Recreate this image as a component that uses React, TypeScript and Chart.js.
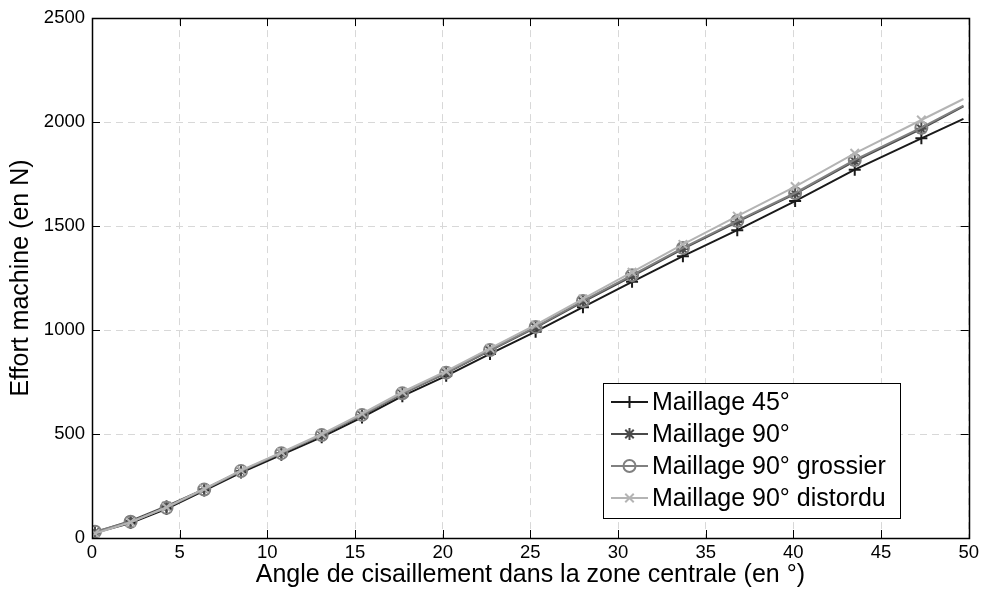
import React, { useEffect, useRef } from "react";
import { Chart, registerables } from "chart.js";

Chart.register(...registerables);

const FONT = "'Liberation Sans', Arial, Helvetica, sans-serif";

const angles = [0.17, 2.2, 4.25, 6.4, 8.5, 10.8, 13.1, 15.4, 17.7, 20.2, 22.7, 25.3, 28.0, 30.8, 33.7, 36.8, 40.1, 43.5, 47.3, 49.7];

const maillage45 = [25, 72, 140, 228, 315, 400, 485, 580, 682, 780, 885, 992, 1110, 1232, 1355, 1480, 1620, 1771, 1922, 2015];
const maillage90 = [28, 82, 153, 235, 322, 408, 494, 590, 694, 793, 901, 1012, 1136, 1258, 1390, 1520, 1655, 1812, 1968, 2075];
const maillage90Grossier = [30, 78, 145, 233, 322, 408, 495, 592, 696, 795, 904, 1015, 1140, 1264, 1395, 1525, 1659, 1818, 1973, 2079];
const maillage90Distordu = [22, 76, 148, 236, 325, 412, 500, 598, 702, 802, 912, 1025, 1150, 1278, 1412, 1548, 1690, 1850, 2010, 2111];

const seriesLabels = ["Maillage 45°", "Maillage 90°", "Maillage 90° grossier", "Maillage 90° distordu"];
const seriesColors = ["#1a1a1a", "#4a4a4a", "#808080", "#b4b4b4"];
const seriesMarkers = ["cross", "star", "circle", "crossRot"];

const xTicks = [0, 5, 10, 15, 20, 25, 30, 35, 40, 45, 50];
const yTicks = [0, 500, 1000, 1500, 2000, 2500];

const xTitle = "Angle de cisaillement dans la zone centrale (en °)";
const yTitle = "Effort machine (en N)";

function drawMarker(ctx: CanvasRenderingContext2D, style: string, x: number, y: number, r: number, color: string) {
  ctx.save();
  ctx.strokeStyle = color;
  ctx.lineWidth = 2;
  ctx.beginPath();
  if (style === "cross" || style === "star") {
    ctx.moveTo(x - r, y); ctx.lineTo(x + r, y);
    ctx.moveTo(x, y - r); ctx.lineTo(x, y + r);
  }
  if (style === "crossRot" || style === "star") {
    const d = r * 0.707;
    ctx.moveTo(x - d, y - d); ctx.lineTo(x + d, y + d);
    ctx.moveTo(x - d, y + d); ctx.lineTo(x + d, y - d);
  }
  if (style === "circle") {
    ctx.arc(x, y, r, 0, Math.PI * 2);
  }
  ctx.stroke();
  ctx.restore();
}

const framePlugin = {
  id: "frame",
  afterDatasetsDraw(chart: any) {
    const { ctx, chartArea, scales } = chart;
    const { left, right, top, bottom } = chartArea;
    ctx.save();
    ctx.strokeStyle = "#000";
    ctx.lineWidth = 1;
    ctx.beginPath();
    const tl = 8;
    xTicks.forEach((v) => {
      const px = Math.round(scales.x.getPixelForValue(v)) + 0.5;
      ctx.moveTo(px, bottom); ctx.lineTo(px, bottom - tl);
      ctx.moveTo(px, top); ctx.lineTo(px, top + tl);
    });
    yTicks.forEach((v) => {
      const py = Math.round(scales.y.getPixelForValue(v)) + 0.5;
      ctx.moveTo(left, py); ctx.lineTo(left + tl, py);
      ctx.moveTo(right, py); ctx.lineTo(right - tl, py);
    });
    ctx.stroke();
    ctx.lineWidth = 1.5;
    ctx.strokeRect(Math.round(left) + 0.5, Math.round(top) + 0.5, Math.round(right - left), Math.round(bottom - top));
    ctx.restore();

    // legend
    const bx = 603, by = 383, bw = 297, bh = 135;
    ctx.save();
    ctx.fillStyle = "#fff";
    ctx.fillRect(bx, by, bw, bh);
    ctx.strokeStyle = "#000";
    ctx.lineWidth = 1;
    ctx.strokeRect(bx + 0.5, by + 0.5, bw, bh);
    ctx.font = `25px ${FONT}`;
    ctx.textBaseline = "middle";
    ctx.textAlign = "left";
    seriesLabels.forEach((lab, i) => {
      const cy = by + 19 + i * 32;
      ctx.strokeStyle = seriesColors[i];
      ctx.lineWidth = 2;
      ctx.beginPath();
      ctx.moveTo(611, cy); ctx.lineTo(648, cy);
      ctx.stroke();
      drawMarker(ctx, seriesMarkers[i], 629.5, cy, 6, seriesColors[i]);
      ctx.fillStyle = "#000";
      ctx.fillText(lab, 652, cy + 1);
    });
    ctx.restore();
  },
};

function makeDataset(label: string, values: number[], i: number) {
  const n = values.length;
  return {
    label,
    data: values.map((v, k) => ({ x: angles[k], y: v })),
    borderColor: seriesColors[i],
    backgroundColor: "rgba(0,0,0,0)",
    borderWidth: 2,
    pointStyle: seriesMarkers[i],
    pointRadius: values.map((_, k) => (k === n - 1 ? 0 : 6)),
    pointBorderWidth: 2,
    pointBorderColor: seriesColors[i],
    pointBackgroundColor: "rgba(0,0,0,0)",
    tension: 0,
    order: 4 - i,
  };
}

export default function App() {
  const ref = useRef<HTMLCanvasElement | null>(null);
  useEffect(() => {
    document.body.style.margin = "0";
    const canvas = ref.current!;
    const chart = new Chart(canvas, {
      type: "line",
      data: {
        datasets: [
          makeDataset(seriesLabels[0], maillage45, 0),
          makeDataset(seriesLabels[1], maillage90, 1),
          makeDataset(seriesLabels[2], maillage90Grossier, 2),
          makeDataset(seriesLabels[3], maillage90Distordu, 3),
        ] as any,
      },
      options: {
        animation: false,
        responsive: false,
        maintainAspectRatio: false,
        devicePixelRatio: 1,
        layout: { padding: { left: 0, right: 13, top: 15, bottom: 0 }, autoPadding: false } as any,
        plugins: { legend: { display: false }, tooltip: { enabled: false } },
        scales: {
          x: {
            type: "linear",
            min: 0,
            max: 50,
            afterBuildTicks: (s: any) => { s.ticks = xTicks.map((v) => ({ value: v })); },
            afterFit: (s: any) => { s.height = 52; },
            ticks: { color: "#000", font: { family: FONT, size: 18.5 }, padding: 4, maxRotation: 0, autoSkip: false, callback: (v: any) => String(v) },
            grid: { color: "#d8d8d8", drawTicks: false, lineWidth: 1 },
            border: { display: false, dash: [7, 5] },
            title: { display: true, text: xTitle, color: "#000", font: { family: FONT, size: 25 }, padding: { top: 0, bottom: 0 } },
          },
          y: {
            type: "linear",
            min: 0,
            max: 2500,
            afterBuildTicks: (s: any) => { s.ticks = yTicks.map((v) => ({ value: v })); },
            afterFit: (s: any) => { s.width = 92; },
            ticks: { color: "#000", font: { family: FONT, size: 18.5 }, padding: 7, autoSkip: false, callback: (v: any) => String(v) },
            grid: { color: "#d8d8d8", drawTicks: false, lineWidth: 1 },
            border: { display: false, dash: [7, 5] },
            title: { display: true, text: yTitle, color: "#000", font: { family: FONT, size: 25 }, padding: { top: 6, bottom: 0 } },
          },
        },
      } as any,
      plugins: [framePlugin],
    });
    return () => chart.destroy();
  }, []);
  return (
    <div style={{ width: 983, height: 590, background: "#fff" }}>
      <canvas ref={ref} width={983} height={590} style={{ display: "block", width: 983, height: 590 }} />
    </div>
  );
}
